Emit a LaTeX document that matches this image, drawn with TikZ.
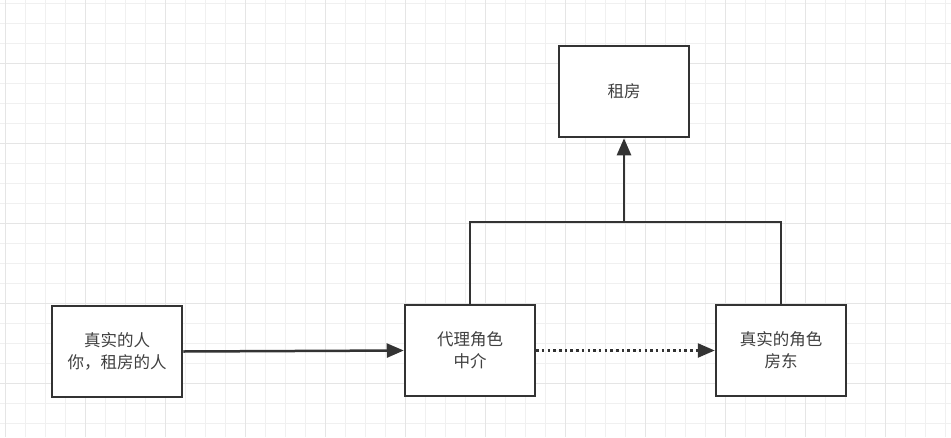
\documentclass[tikz,border=0pt]{standalone}
\usepackage{fontspec}
\setmainfont{Noto Sans CJK SC}
\usetikzlibrary{arrows.meta}

\begin{document}
\begin{tikzpicture}[x=1pt,y=-1pt,
  box/.style={draw=black!80,line width=2.5pt,fill=white,minimum width=130pt,minimum height=91pt,
    align=center,text=black!75,font=\fontsize{16.5}{22}\selectfont},
  arr/.style={-{Triangle[length=17pt,width=14pt]},line width=2.5pt,draw=black!80},
  gridminor/.style={draw=black!6,line width=1pt},
  gridmajor/.style={draw=black!10,line width=1pt}]
\useasboundingbox (0,0) rectangle (951,437);
\fill[white] (0,0) rectangle (951,437);
% grid
\foreach \gx in {5,25,...,945} \draw[gridminor] (\gx,0)--(\gx,437);
\foreach \gy in {3,23,...,433} \draw[gridminor] (0,\gy)--(951,\gy);
\foreach \gx in {5,85,...,945} \draw[gridmajor] (\gx,0)--(\gx,437);
\foreach \gy in {63,143,...,433} \draw[gridmajor] (0,\gy)--(951,\gy);
% boxes
\node[box] (rent) at (624,91.5) {租房};
\node[box] (person) at (117,351.5) {真实的人\\你，租房的人};
\node[box] (proxy) at (470,350.5) {代理角色\\中介};
\node[box] (owner) at (781,350.5) {真实的角色\\房东};
% connectors
\coordinate (join) at (624,222);
\draw[line width=2.5pt,draw=black!80] (proxy.north) |- (join) -| (owner.north);
\draw[arr] (join) -- (rent.south);
\draw[arr] (person.east) -- (proxy.west);
\draw[arr,dash pattern=on 2.5pt off 3.2pt] (proxy.east) -- (owner.west);
\end{tikzpicture}
\end{document}
